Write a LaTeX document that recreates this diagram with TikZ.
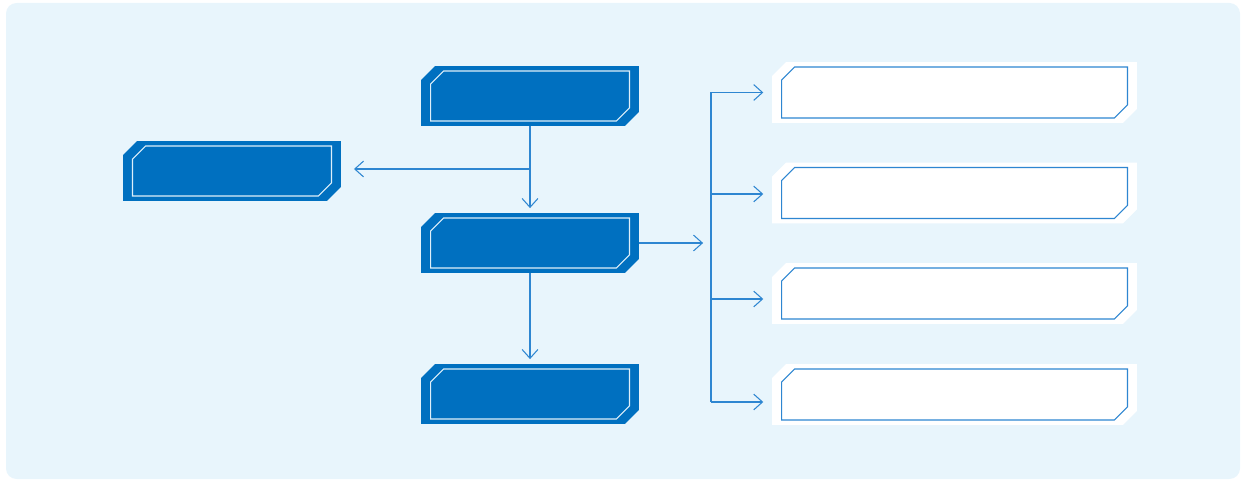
\documentclass[tikz,border=0pt]{standalone}
\usetikzlibrary{arrows.meta,calc}

\definecolor{panelbg}{HTML}{E8F5FC}
\definecolor{boxblue}{HTML}{0070C0}
\definecolor{lineblue}{HTML}{2E86D1}
\definecolor{innerline}{HTML}{DDEFFA}

% chamfered outline inside a node: x inset, y inset, cut
\newcommand{\champoly}[3]{%
  ([xshift=#1+#3, yshift=-#2]path picture bounding box.north west) --
  ([xshift=-#1, yshift=-#2]path picture bounding box.north east) --
  ([xshift=-#1, yshift=#2+#3]path picture bounding box.south east) --
  ([xshift=-#1-#3, yshift=#2]path picture bounding box.south east) --
  ([xshift=#1, yshift=#2]path picture bounding box.south west) --
  ([xshift=#1, yshift=-#2-#3]path picture bounding box.north west) -- cycle}

\tikzset{
  darkbox/.style={minimum width=4.36cm, minimum height=1.2cm, inner sep=0pt, outer sep=0pt,
    path picture={
      \fill[boxblue] \champoly{0cm}{0cm}{0.28cm};
      \draw[innerline, line width=0.6pt] \champoly{0.19cm}{0.1cm}{0.26cm};
    }},
  lightbox/.style={minimum width=7.3cm, minimum height=1.22cm, inner sep=0pt, outer sep=0pt,
    path picture={
      \fill[white] \champoly{0cm}{0cm}{0.28cm};
      \draw[lineblue, line width=0.6pt] \champoly{0.19cm}{0.1cm}{0.26cm};
    }},
  link/.style={draw=lineblue, line width=0.6pt},
  arr/.style={link, -{Straight Barb[length=5pt, width=9pt]}},
}

\begin{document}
\begin{tikzpicture}[x=0.02cm, y=-0.02cm]
  \useasboundingbox (0,0) rectangle (1246,482);
  % Panel
  \fill[panelbg, rounded corners=6pt] (6,3) rectangle (1240,479);
  % Left column of dark boxes
  \node[darkbox] (topb) at (530,96) {};
  \node[darkbox] (leftb) at (232,171) {};
  \node[darkbox] (midb) at (530,243) {};
  \node[darkbox] (botb) at (530,394) {};
  % Right column of white boxes
  \node[lightbox] (r1) at (954.5,92.5) {};
  \node[lightbox] (r2) at (954.5,193) {};
  \node[lightbox] (r3) at (954.5,293.5) {};
  \node[lightbox] (r4) at (954.5,394.5) {};
  \coordinate (hub) at (711,243);
  % Connecting lines
  \draw[arr, shorten >=2.8pt] (topb.south) -- (midb.north);
  \draw[arr, shorten >=7.4pt] ($(topb.south |- leftb.east)+(0,-2)$) -- ($(leftb.east)+(0,-2)$);
  \draw[arr, shorten >=2.8pt] (midb.south) -- (botb.north);
  \draw[arr, shorten >=4.5pt] (midb.east) -- (hub);
  \draw[link] (hub |- r1.west) -- ($(hub |- r4.west)+(0,7.5)$);
  \foreach \b/\dy in {r1/0, r2/1, r3/5.5, r4/7.5}
    \draw[arr, shorten >=5pt] ($(hub |- \b.west)+(0,\dy)$) -- ($(\b.west)+(0,\dy)$);
\end{tikzpicture}
\end{document}
